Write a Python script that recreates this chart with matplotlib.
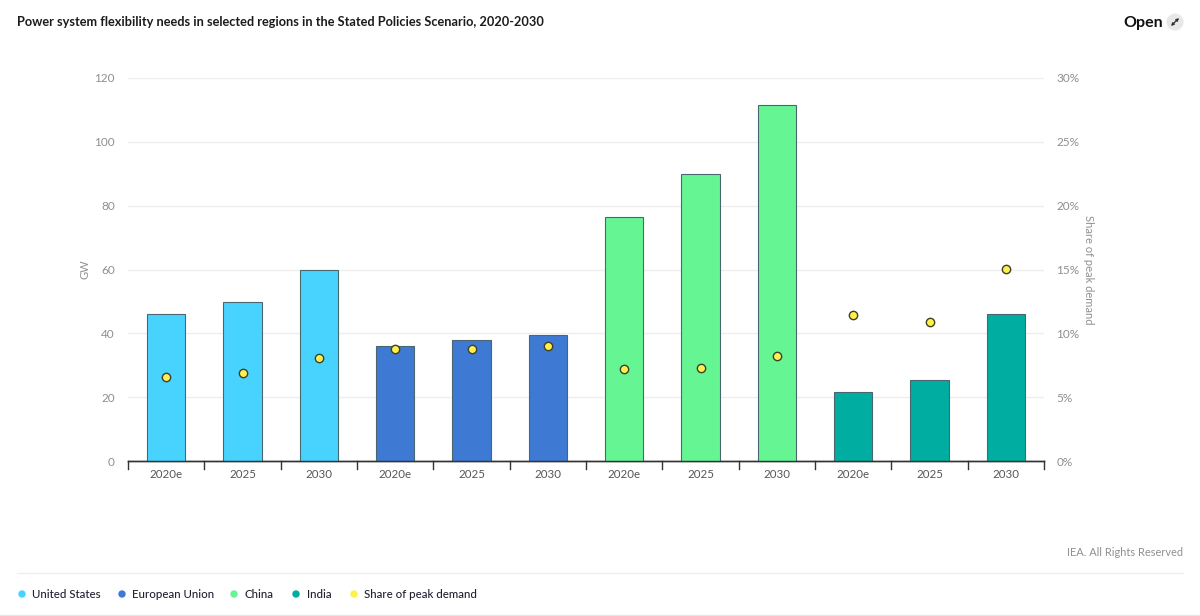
import matplotlib
matplotlib.use('Agg')
import matplotlib.pyplot as plt
from matplotlib.lines import Line2D
from matplotlib.patches import Circle, FancyArrowPatch

plt.rcParams['font.family'] = ['Lato', 'DejaVu Sans']

years = ['2020e', '2025', '2030', '2020e', '2025', '2030', '2020e', '2025', '2030', '2020e', '2025', '2030']
regions = ['United States', 'European Union', 'China', 'India']
gw_values = [46, 49.7, 60, 36, 38, 39.5, 76.5, 90, 111.5, 21.5, 25.5, 46]
share_values = [6.6, 6.9, 8.1, 8.8, 8.8, 9.0, 7.2, 7.3, 8.2, 11.4, 10.9, 15.0]
region_colors = ['#48d3ff', '#3e7ad3', '#65f693', '#00ada1']
share_color = '#fff04d'

W, H = 1200, 616
fig = plt.figure(figsize=(W / 100, H / 100), dpi=100)

# axes placed in pixel coords from the reference
left, right, top, bottom = 128, 1044, 78, 461
ax = fig.add_axes([left / W, 1 - bottom / H, (right - left) / W, (bottom - top) / H])
ax2 = ax.twinx()

xs = list(range(len(years)))
bar_colors = [region_colors[i // 3] for i in xs]
ax.bar(xs, gw_values, width=0.5, color=bar_colors, edgecolor='#4a6670', linewidth=0.8, zorder=3)
ax.set_xlim(-0.5, 11.5)
ax.set_ylim(0, 120)
ax.set_yticks(range(0, 121, 20))
ax.set_xticks(xs)
ax.set_xticklabels(years)
ax.grid(axis='y', color='#eeeeee', linewidth=1, zorder=0)
ax.set_axisbelow(True)
ax.tick_params(axis='y', length=0, labelsize=8.5, labelcolor='#8f8f8f', pad=9.4)
ax.tick_params(axis='x', length=0, labelsize=8.3, labelcolor='#555555', pad=5.5)
for i in range(len(years) + 1):
    ax.plot([i - 0.5, i - 0.5], [0, -0.022], transform=ax.get_xaxis_transform(),
            color='#333333', linewidth=1, clip_on=False)
ax.set_ylabel('GW', fontsize=8, color='#8f8f8f', va='center')
ax.yaxis.set_label_coords((85 - left) / (right - left), 0.5)

ax2.set_ylim(0, 30)
ax2.set_yticks(range(0, 31, 5))
ax2.set_yticklabels([f'{v}%' for v in range(0, 31, 5)])
ax2.tick_params(axis='y', length=0, labelsize=8.5, labelcolor='#8f8f8f', pad=9)
ax2.set_ylabel('Share of peak demand', fontsize=8, color='#8f8f8f', rotation=270, va='center')
ax2.yaxis.set_label_coords((1088 - left) / (right - left), 0.5)
ax2.plot(xs, share_values, linestyle='none', marker='o', markersize=6,
         markerfacecolor=share_color, markeredgecolor='#3f3f2a', markeredgewidth=1, zorder=5)

for a in (ax, ax2):
    for side in ('top', 'left', 'right'):
        a.spines[side].set_visible(False)
    a.spines['bottom'].set_color('#333333')
    a.spines['bottom'].set_linewidth(1)

# page furniture
fig.text(17 / W, 1 - 22 / H, 'Power system flexibility needs in selected regions in the Stated Policies Scenario, 2020-2030',
         fontsize=9.15, fontweight='bold', color='#1c1c1c', va='center')
fig.text(1163 / W, 1 - 22.5 / H, 'Open', fontsize=11.5, fontweight='bold', color='#111111', va='center', ha='right')
fig.add_artist(Circle((1175, H - 22), 8.5, transform=None, facecolor='#e8e8e8', edgecolor='none'))
fig.add_artist(FancyArrowPatch((1171, H - 26), (1179, H - 18), transform=None, arrowstyle='<|-|>',
                               mutation_scale=4, linewidth=0.9, color='#333333',
                               shrinkA=0, shrinkB=0))
fig.text(1183 / W, 1 - 552 / H, 'IEA. All Rights Reserved', fontsize=7.9, color='#8f8f8f', va='center', ha='right')
fig.add_artist(Line2D([17 / W, 1183 / W], [1 - 573 / H] * 2, color='#eeeeee', linewidth=1))
fig.add_artist(Line2D([0, 1], [1 - 615 / H] * 2, color='#e6e6e6', linewidth=1))

legend_labels = regions + ['Share of peak demand']
legend_colors = region_colors + [share_color]
dot_x = [22, 122, 234, 296, 354]
for x, label, color in zip(dot_x, legend_labels, legend_colors):
    fig.add_artist(Circle((x, H - 594), 3.7, transform=None, facecolor=color, edgecolor='none'))
    fig.text((x + 10.5) / W, 1 - 594 / H, label, fontsize=8.3, fontweight='medium', color='#222233', va='center')

fig.savefig('out.png', dpi=100)
